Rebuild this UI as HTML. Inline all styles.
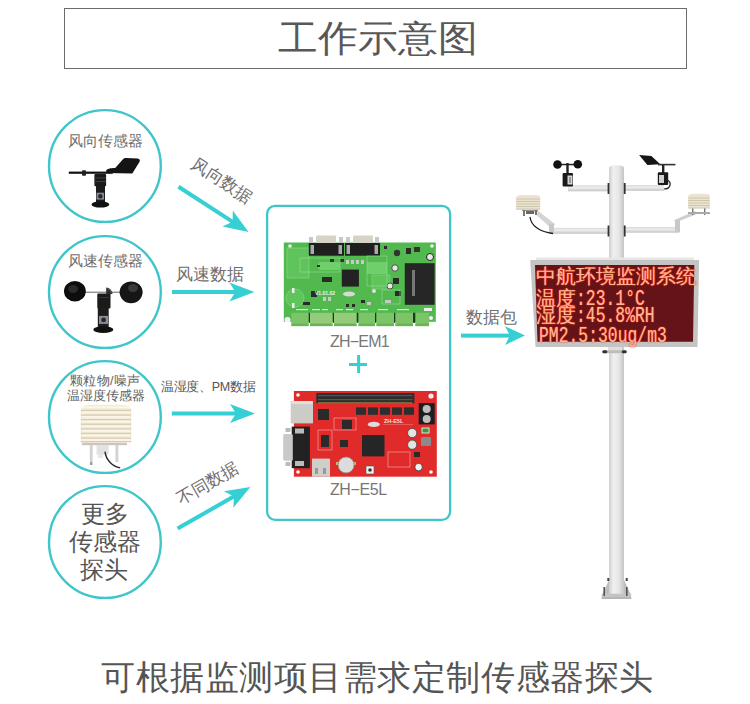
<!DOCTYPE html>
<html><head><meta charset="utf-8">
<style>
html,body{margin:0;padding:0;background:#fff;}
body{width:750px;height:704px;position:relative;overflow:hidden;font-family:"Liberation Sans",sans-serif;color:#555;}
.t{position:absolute;white-space:nowrap;line-height:1;}
svg{position:absolute;left:0;top:0;}
.led{color:#ffb896;text-shadow:0 0 1px #ff3a1a,0 0 2px #ff2010;}
.m{font-family:"Liberation Mono",monospace;font-size:22px;display:inline-block;transform:scaleX(0.745);transform-origin:0 50%;}
</style></head><body>
<div style="position:absolute;left:64px;top:8px;width:621px;height:59px;border:1px solid #6b6b6b;"></div>
<div class="t" id="title" style="left:278px;top:19px;font-size:40px;color:#585858;transform:scaleY(0.93);transform-origin:0 0;">工作示意图</div>

<svg width="750" height="704" viewBox="0 0 750 704">
  <defs>
    <g id="arr"><polygon points="0,0 -25,-9.5 -19,0 -25,9.5" fill="#36cfd3"/></g>
  </defs>
  <!-- circles -->
  <g fill="none" stroke="#3ec6cb" stroke-width="2.4">
    <circle cx="104.9" cy="166" r="55.9"/>
    <circle cx="104.9" cy="292" r="55.9"/>
    <circle cx="104.9" cy="417" r="55.9"/>
    <circle cx="104.9" cy="542" r="55.9"/>
  </g>
  <!-- container -->
  <rect x="267.1" y="205.8" width="183" height="314" rx="8" ry="8" fill="none" stroke="#40c6c9" stroke-width="2.3"/>
  <!-- arrows -->
  <g transform="translate(248.6,232.1) rotate(32.9)"><rect x="-83.5" y="-2" width="66" height="4" fill="#36cfd3"/><use href="#arr"/></g>
  <g transform="translate(254.4,292)"><rect x="-82.4" y="-2" width="65" height="4" fill="#36cfd3"/><use href="#arr"/></g>
  <g transform="translate(255,413.5)"><rect x="-83.2" y="-2" width="65" height="4" fill="#36cfd3"/><use href="#arr"/></g>
  <g transform="translate(250.4,487.1) rotate(-29.6)"><rect x="-83.7" y="-2" width="66" height="4" fill="#36cfd3"/><use href="#arr"/></g>
  <g transform="translate(525,335.6)"><rect x="-64" y="-2" width="50" height="4" fill="#36cfd3"/><polygon points="0,0 -20,-9.4 -15,0 -20,9.4" fill="#36cfd3"/></g>
  <!-- plus -->
  <rect x="349" y="363" width="18" height="3" fill="#34d0d4"/>
  <rect x="357.1" y="355" width="3" height="18" fill="#34d0d4"/>
</svg>


<svg width="750" height="704" viewBox="0 0 750 704">
  <!-- wind vane sensor -->
  <g id="vane">
    <rect x="68.8" y="171.6" width="44" height="2.2" fill="#111"/>
    <rect x="82" y="170.2" width="4" height="5.6" rx="1" fill="#222"/>
    <path d="M106.1,170.8 C107,168.8 110,168.2 115.2,168.1 L123.2,159.1 C124,158 125,158 126,158 L137.6,158.5 C139.5,158.8 140.3,160 139.7,161.4 L132.3,173.5 L106.7,173 Z" fill="#141414"/>
    <rect x="94.4" y="174" width="11.7" height="12.3" rx="1" fill="#1a1a1a"/>
    <rect x="94.4" y="177.5" width="11.7" height="0.9" fill="#444"/>
    <rect x="94.4" y="181" width="11.7" height="0.9" fill="#444"/>
    <rect x="96" y="186" width="9" height="17" fill="#1c1c1c"/>
    <rect x="96.5" y="192.7" width="7.5" height="6.9" fill="#8a8a8a"/>
    <circle cx="100.3" cy="196.2" r="2.2" fill="#1a2a40"/>
    <ellipse cx="100.4" cy="204.4" rx="8.9" ry="3.2" fill="#111"/>
  </g>
  <!-- anemometer -->
  <g id="anemo">
    <rect x="85" y="291.6" width="36" height="1.3" fill="#8a8a8a"/>
    <ellipse cx="74.9" cy="291.2" rx="10.9" ry="10.3" fill="#0d0d0d"/>
    <ellipse cx="73" cy="289" rx="5" ry="4" fill="#2a2a2a"/>
    <ellipse cx="131.1" cy="292.3" rx="11.5" ry="10.9" fill="#161616"/>
    <ellipse cx="133" cy="288" rx="5" ry="4" fill="#3a3a3a"/>
    
    <rect x="97.3" y="293.5" width="13.2" height="15" rx="1" fill="#1a1a1a"/>
    <rect x="97.8" y="308" width="10.9" height="20" fill="#1c1c1c"/>
    <path d="M106.2,294 L106.2,287.5 A6.2,6.5 0 0 1 112.4,294 Z" fill="#2e2e2e"/><path d="M107.5,288.5 A5,5 0 0 1 111.5,293" stroke="#777" stroke-width="0.8" fill="none"/>
    <rect x="97.3" y="297" width="13.2" height="0.8" fill="#3a3a3a"/>
    <rect x="99" y="315.9" width="9.2" height="8" fill="#8d8d8d"/>
    <circle cx="103.6" cy="319.9" r="2.4" fill="#1a2a40"/>
    <ellipse cx="103.3" cy="329.7" rx="10" ry="3.4" fill="#111"/>
  </g>
  <!-- shield sensor -->
  <g id="shield">
    <rect x="81.9" y="442.6" width="45" height="2.6" fill="#cdc6bc"/>
    <rect x="89.8" y="445" width="2.8" height="20" fill="#d2d2d2"/><rect x="90.2" y="462" width="2" height="3" fill="#999"/>
    <rect x="115.5" y="445" width="2.8" height="17" fill="#d2d2d2"/>
    <rect x="96.6" y="445" width="12" height="9.7" fill="#e2e2e2"/><rect x="98" y="454" width="5" height="4" fill="#e8e8e8"/>
    <path d="M105,451.6 C106,460 112,466 120.2,467.9" stroke="#2a2a2a" stroke-width="1.4" fill="none"/>
    <path d="M80.8,410 Q81,404.8 92,404.8 L120,404.8 Q131,404.8 131.2,410 L131.2,442 L80.8,442 Z" fill="#f3ecd8"/>
    <g fill="#d9ceb2">
      <rect x="80.8" y="409.8" width="50.4" height="1.3"/>
      <rect x="80.8" y="414.4" width="50.4" height="1.3"/>
      <rect x="80.8" y="419" width="50.4" height="1.3"/>
      <rect x="80.8" y="423.6" width="50.4" height="1.3"/>
      <rect x="80.8" y="428.2" width="50.4" height="1.3"/>
      <rect x="80.8" y="432.8" width="50.4" height="1.3"/>
      <rect x="80.8" y="437.4" width="50.4" height="1.3"/>
      <rect x="80.8" y="441" width="50.4" height="1.2"/>
    </g>
    <g fill="#fbf7ec">
      <rect x="82" y="406.5" width="48" height="1.5"/>
      <rect x="82" y="411.6" width="48" height="1.5"/>
      <rect x="82" y="416.2" width="48" height="1.5"/>
      <rect x="82" y="420.8" width="48" height="1.5"/>
      <rect x="82" y="425.4" width="48" height="1.5"/>
      <rect x="82" y="430" width="48" height="1.5"/>
      <rect x="82" y="434.6" width="48" height="1.5"/>
      <rect x="82" y="439.2" width="48" height="1.5"/>
    </g>
  </g>
</svg>


<svg width="750" height="704" viewBox="0 0 750 704">
  <defs>
    <linearGradient id="pg" x1="0" x2="1" y1="0" y2="0">
      <stop offset="0" stop-color="#cfcfcf"/>
      <stop offset="0.3" stop-color="#f0f0f0"/>
      <stop offset="0.65" stop-color="#e6e6e6"/>
      <stop offset="1" stop-color="#c4c4c4"/>
    </linearGradient>
    <linearGradient id="ag" x1="0" x2="0" y1="0" y2="1">
      <stop offset="0" stop-color="#d8d8d8"/>
      <stop offset="0.4" stop-color="#eeeeee"/>
      <stop offset="1" stop-color="#c4c4c4"/>
    </linearGradient>
  </defs>
  <!-- pole -->
  <path d="M609,168 Q609,165.3 616.5,165.3 Q624,165.3 624,168 L624,594 L609,594 Z" fill="url(#pg)"/>
  <!-- base plate -->
  <path d="M602.5,594 L609,580 L609,594 Z M630.5,594 L624,580 L624,594 Z" fill="#bdbdbd"/>
  <rect x="601.7" y="593.7" width="29.5" height="5" fill="#c4c4c4"/>
  <rect x="601.7" y="597.5" width="29.5" height="1.2" fill="#a8a8a8"/>
  <rect x="607.3" y="578" width="2" height="3" fill="#444"/>
  <rect x="625.7" y="578" width="2" height="3" fill="#444"/>
  <rect x="603.4" y="587" width="1.6" height="9" fill="#555"/>
  <rect x="626" y="587" width="1.6" height="9" fill="#555"/>
  <!-- upper arms -->
  <rect x="568" y="185.3" width="41" height="6" fill="url(#ag)"/>
  <rect x="624" y="185" width="40" height="5.8" fill="url(#ag)"/>
  <rect x="607.6" y="183" width="1.8" height="11" fill="#333"/>
  <rect x="623.8" y="183" width="1.8" height="11" fill="#333"/>
  <!-- lower arms -->
  <rect x="551.4" y="227.9" width="58" height="5.9" fill="url(#ag)"/>
  <rect x="624" y="227" width="55.4" height="5.7" fill="url(#ag)"/>
  <rect x="607.6" y="225.5" width="1.8" height="11" fill="#333"/>
  <rect x="623.8" y="225.5" width="1.8" height="11" fill="#333"/>
  <!-- left diagonal -->
  <polygon points="533,212 537,210 555,224 552,229" fill="#d4d4d4"/>
  <rect x="549" y="224" width="5" height="10" fill="#c8c8c8"/>
  <path d="M530,217 C531,226 540,232 553,233.5" stroke="#1c1c1c" stroke-width="1.3" fill="none"/>
  <rect x="522" y="209.5" width="16" height="1.6" fill="#999"/><rect x="523" y="210" width="2" height="6" fill="#777"/><rect x="535" y="210" width="2" height="5" fill="#777"/><rect x="526" y="211" width="8" height="3" fill="#666"/>
  <!-- right diagonal -->
  <polygon points="673.8,220.2 677,222 697,214 695,211" fill="#cfcfcf"/>
  <rect x="675" y="220" width="5" height="12" fill="#c8c8c8"/>
  <rect x="692" y="208" width="1.4" height="7" fill="#777"/>
  <rect x="704" y="208" width="1.4" height="7" fill="#777"/>
  <rect x="688" y="212" width="22" height="2" fill="#aaa"/>
  <!-- shields -->
  <g>
    <path d="M516.2,197 Q517,195 522,195 L535,195 Q540,195 540.2,197 L540.2,209.8 L516.2,209.8 Z" fill="#ebe4d0"/>
    <g stroke="#c6bca4" stroke-width="0.8">
      <line x1="516.2" y1="199" x2="540.2" y2="199"/><line x1="516.2" y1="201.5" x2="540.2" y2="201.5"/>
      <line x1="516.2" y1="204" x2="540.2" y2="204"/><line x1="516.2" y1="206.5" x2="540.2" y2="206.5"/>
      <line x1="516.2" y1="209" x2="540.2" y2="209"/>
    </g>
    <path d="M688.2,196 Q689,193.8 694,193.8 L705,193.8 Q709.8,193.8 709.8,196 L709.8,208.2 L688.2,208.2 Z" fill="#ebe4d0"/>
    <g stroke="#c6bca4" stroke-width="0.8">
      <line x1="688.2" y1="198" x2="709.8" y2="198"/><line x1="688.2" y1="200.5" x2="709.8" y2="200.5"/>
      <line x1="688.2" y1="203" x2="709.8" y2="203"/><line x1="688.2" y1="205.5" x2="709.8" y2="205.5"/>
      <line x1="688.2" y1="208" x2="709.8" y2="208"/>
    </g>
  </g>
  <!-- small anemometer -->
  <rect x="558" y="163.8" width="20" height="1.5" fill="#222"/>
  <circle cx="557.5" cy="164.5" r="4.3" fill="#111"/>
  <circle cx="577.8" cy="164.2" r="4.3" fill="#111"/>
  <rect x="566.3" y="163" width="2.4" height="10" fill="#222"/>
  <rect x="562.6" y="173" width="10.4" height="13.6" rx="1" fill="#1a1a1a"/>
  <rect x="567.5" y="175.5" width="5" height="9" fill="#d6d6d6"/><rect x="569" y="177" width="2" height="6" fill="#999"/>
  <!-- small wind vane -->
  <polygon points="639.1,154.9 651.4,155.9 660.2,164.2 647.4,165" fill="#151515"/>
  <rect x="658" y="163.8" width="17.4" height="1.6" fill="#333"/>
  <rect x="662" y="165" width="2.4" height="8" fill="#222"/>
  <rect x="657.8" y="172.2" width="10.4" height="12.8" rx="1" fill="#1a1a1a"/>
  <rect x="659" y="175" width="5" height="8" fill="#cfcfcf"/>
  <path d="M667,180 C672,182 671,189 664,189" stroke="#222" stroke-width="1.2" fill="none"/>
  <!-- LED board -->
  <rect x="536" y="257.5" width="158" height="2.6" fill="#e6e6e6"/>
  <path d="M530.2,260.1 L699.1,260.1 L697.5,347 L535.5,347 Z" fill="#c4c4c4"/>
  <path d="M535,264.9 L694.3,264.9 L693,341.7 L537.5,341.7 Z" fill="#641418"/>
  <rect x="608" y="347" width="14" height="4" fill="#dedede"/><rect x="602.3" y="350.3" width="24.4" height="3" rx="1.5" fill="#bdbdbd"/><rect x="602.3" y="350.3" width="5" height="3" rx="1.5" fill="#333"/><rect x="621.7" y="350.3" width="5" height="3" rx="1.5" fill="#333"/>
</svg>
<div class="t led" id="led1" style="left:536px;top:266.5px;font-size:19.5px;">中航环境监测系统</div>
<div class="t led" id="led2" style="left:536px;top:289px;font-size:19.5px;">温度<span class="m">:23.1°C</span></div>
<div class="t led" id="led3" style="left:536px;top:305.5px;font-size:19.5px;">湿度<span class="m">:45.8%RH</span></div>
<div class="t led" id="led4" style="left:539px;top:326px;"><span class="m">PM2.5:30ug/m3</span></div>


<svg width="750" height="704" viewBox="0 0 750 704">
  <!-- GREEN BOARD ZH-EM1 -->
  <rect x="283.8" y="242.5" width="152" height="79.3" fill="#52b94f"/>
  <!-- left relay area -->
  <rect x="287" y="248" width="22" height="30" fill="#5fc45c" stroke="#8fd98a" stroke-width="0.6"/>
  <circle cx="290" cy="246" r="1.8" fill="#f4f4f4"/>
  <circle cx="432" cy="246" r="1.8" fill="#f4f4f4"/>
  <circle cx="431" cy="318" r="2" fill="#f4f4f4"/>
  <circle cx="287.5" cy="320" r="3" fill="#f4f4f4"/>
  <circle cx="295" cy="298" r="9" fill="#5ec55b" stroke="#8fd98a" stroke-width="0.6"/>
  <rect x="292" y="288" width="2.5" height="5" fill="#eee"/>
  <rect x="292" y="303" width="2.5" height="5" fill="#eee"/>
  <!-- DB9 connectors -->
  <g>
    <rect x="316" y="235.5" width="20" height="7.5" rx="1" fill="#d6d2c6"/>
    <rect x="309" y="237" width="4" height="6" fill="#c8c8c8"/>
    <rect x="339" y="237" width="4" height="6" fill="#c8c8c8"/>
    <rect x="308.8" y="243" width="35.2" height="12.7" fill="#1f1f1f"/>
    <rect x="310.5" y="245" width="3.5" height="9" fill="#aaa"/>
    <rect x="338.5" y="245" width="3.5" height="9" fill="#aaa"/>
    <rect x="353" y="235.5" width="20" height="7.5" rx="1" fill="#d6d2c6"/>
    <rect x="346" y="237" width="4" height="6" fill="#c8c8c8"/>
    <rect x="375" y="237" width="4" height="6" fill="#c8c8c8"/>
    <rect x="345" y="243" width="35" height="12.7" fill="#1f1f1f"/>
    <rect x="346.5" y="245" width="3.5" height="9" fill="#aaa"/>
    <rect x="374.5" y="245" width="3.5" height="9" fill="#aaa"/>
  </g>
  <!-- light traces/regions -->
  <rect x="318" y="262" width="22" height="8" rx="3" fill="#6fcf6b"/>
  <rect x="367" y="262" width="20" height="12" fill="#6fcf6b"/>
  <rect x="372" y="275" width="18" height="14" fill="#5fc45c" stroke="#8fd98a" stroke-width="0.5"/>
  <!-- chips -->
  <rect x="341.8" y="269.6" width="17.1" height="17" fill="#222"/>
  <rect x="322" y="277" width="10" height="5" fill="#2a2a2a"/>
  <rect x="311" y="291" width="6" height="6" fill="#2a2a2a"/>
  <rect x="317" y="265" width="3" height="2" fill="#333"/>
  <rect x="330" y="259" width="4" height="3" fill="#333"/>
  <rect x="340" y="259" width="4" height="3" fill="#333"/>
  <ellipse cx="349" cy="294" rx="6" ry="2.5" fill="#d8d8d8"/>
  <rect x="393" y="278" width="6" height="6" fill="#2a2a2a"/>
  <rect x="395" y="291" width="6" height="5" fill="#2a2a2a"/>
  <rect x="406" y="248" width="5" height="6" fill="#2a2a2a"/>
  <rect x="414" y="247" width="6" height="5" fill="#333"/>
  <circle cx="397" cy="253" r="3.2" fill="#333"/>
  <circle cx="430" cy="257" r="3.5" fill="#e8e8e8" stroke="#222" stroke-width="1"/>
  <circle cx="395" cy="268" r="3.2" fill="#e8e8e8" stroke="#333" stroke-width="0.8"/>
  <circle cx="390" cy="286" r="3" fill="#e8e8e8" stroke="#333" stroke-width="0.8"/>
  <circle cx="374" cy="291" r="2" fill="#e0e0e0"/>
  <!-- silkscreen/texture -->
  <g fill="#d8f0d0">
    <rect x="296" y="309" width="12" height="1.2"/><rect x="312" y="309" width="8" height="1.2"/>
    <rect x="322" y="309" width="6" height="1.2"/><rect x="336" y="309" width="7" height="1.2"/>
    <rect x="346" y="309" width="7" height="1.2"/><rect x="360" y="309" width="8" height="1.2"/>
    <rect x="378" y="309" width="10" height="1.2"/><rect x="397" y="309" width="12" height="1.2"/>
  </g>
  <text x="315" y="294.5" font-family="Liberation Sans" font-size="5" font-weight="bold" fill="#f0f0f0">V1.01.02</text>
  <g fill="#c9c9c9">
    <rect x="346" y="260" width="3" height="4"/><rect x="351" y="260" width="3" height="4"/><rect x="356" y="260" width="3" height="4"/><rect x="361" y="260" width="3" height="4"/>
    <rect x="323" y="297" width="3" height="4"/><rect x="328" y="297" width="3" height="4"/>
    <rect x="385" y="300" width="6" height="3"/><rect x="367" y="302" width="4" height="3"/>
  </g>
  <g fill="#2a2a2a">
    <rect x="303" y="302" width="4" height="3"/><rect x="307" y="302" width="3" height="3"/>
    <rect x="384" y="246" width="3" height="3"/><rect x="361" y="300" width="4" height="3"/>
    <rect x="346" y="304" width="3" height="3"/><rect x="352" y="304" width="3" height="3"/>
  </g>
  <g fill="none" stroke="#a8e0a0" stroke-width="0.5">
    <rect x="300" y="258" width="40" height="14"/>
    <rect x="367" y="256" width="20" height="30"/>
    <rect x="382" y="290" width="18" height="14"/>
  </g>
  <!-- transformer -->
  <rect x="404.8" y="263.2" width="29.8" height="41.6" fill="#262626"/>
  <rect x="412" y="270" width="3" height="26" fill="#777"/>
  <!-- terminal blocks -->
  <rect x="284" y="322" width="152" height="5" fill="#ffffff"/>
  <g fill="#1f3a1f">
    <rect x="308.5" y="312.8" width="1.5" height="10"/>
    <rect x="332.5" y="312.8" width="1.5" height="10"/>
    <rect x="356.5" y="312.8" width="2" height="10"/>
    <rect x="375" y="312.8" width="1.5" height="10"/>
    <rect x="394" y="312.8" width="1.5" height="10"/>
    <rect x="413" y="312.8" width="2.5" height="10"/>
  </g>
  <g fill="#7cc468">
    <rect x="291.4" y="312.8" width="17.1" height="13.3"/>
    <rect x="310" y="312.8" width="22.5" height="13.3" fill="#95cc7c"/>
    <rect x="334" y="312.8" width="22.5" height="13.3" fill="#95cc7c"/>
    <rect x="358.6" y="312.8" width="16.4" height="13.3"/>
    <rect x="376.5" y="312.8" width="17.5" height="13.3"/>
    <rect x="395.5" y="312.8" width="17.5" height="13.3"/>
    <rect x="415.5" y="312.8" width="13.5" height="13.3"/>
  </g>
  <g fill="#6ab356">
    <rect x="291.4" y="323.5" width="17.1" height="2.6"/><rect x="310" y="323.5" width="22.5" height="2.6"/>
    <rect x="334" y="323.5" width="22.5" height="2.6"/><rect x="358.6" y="323.5" width="16.4" height="2.6"/>
    <rect x="376.5" y="323.5" width="17.5" height="2.6"/><rect x="395.5" y="323.5" width="17.5" height="2.6"/>
    <rect x="415.5" y="323.5" width="13.5" height="2.6"/>
  </g>
  <rect x="424" y="308" width="8" height="3" fill="#eee"/>

  <!-- RED BOARD ZH-E5L -->
  <rect x="293.9" y="391" width="142.9" height="85.7" fill="#e12a2a"/>
  <circle cx="298" cy="395" r="1.8" fill="#fff"/>
  <circle cx="431" cy="396" r="2.6" fill="#eee"/>
  <circle cx="298" cy="472" r="1.8" fill="#fff"/>
  <circle cx="431" cy="472" r="1.8" fill="#fff"/>
  <rect x="316.3" y="393.1" width="98.1" height="10" fill="#2e2e2e"/>
  <rect x="318" y="395" width="94.5" height="1.2" fill="#555"/>
  <rect x="318" y="399" width="94.5" height="1.2" fill="#555"/>
  <!-- RJ45 -->
  <rect x="290.7" y="401" width="22.3" height="22.4" fill="#cdcbc6"/>
  <rect x="291.5" y="401" width="21" height="3" fill="#e2e0dc"/>
  <!-- DB9 -->
  <rect x="291.7" y="426.6" width="18.2" height="41.6" fill="#222"/>
  <rect x="283.2" y="434" width="9.6" height="26.7" rx="1.5" fill="#c9c9c9"/>
  <rect x="285.5" y="428" width="5" height="4" fill="#bbb"/>
  <rect x="285.5" y="462" width="5" height="4" fill="#bbb"/>
  <rect x="295" y="428.5" width="9" height="5" fill="#bbb"/>
  <rect x="295" y="461" width="9" height="5" fill="#bbb"/>
  <!-- USB -->
  <rect x="312" y="458.6" width="18" height="18.1" fill="#d0cec8"/>
  <rect x="315" y="468" width="3" height="6" fill="#999"/>
  <rect x="323" y="468" width="3" height="6" fill="#999"/>
  <!-- chips -->
  <rect x="318" y="409" width="11" height="11" fill="#2a2a2a"/>
  <g fill="#2e2e2e">
    <rect x="356" y="407.4" width="10" height="7.4"/>
    <rect x="368" y="407.4" width="10" height="7.4"/>
    <rect x="380" y="407.4" width="10" height="7.4"/>
    <rect x="392" y="407.4" width="10" height="7.4"/>
    <rect x="404" y="407.4" width="10" height="7.4"/>
  </g>
  <rect x="342" y="420" width="10" height="9" fill="#2a2a2a"/>
  <rect x="321" y="435" width="8" height="12" fill="#2a2a2a"/>
  <rect x="340" y="440" width="8" height="7" fill="#2a2a2a"/>
  <rect x="362" y="435.1" width="22.5" height="21.3" fill="#262626"/>
  <ellipse cx="373.8" cy="424.4" rx="6" ry="2.6" fill="#e0dada"/>
  <!-- coin battery -->
  <rect x="336" y="462" width="20" height="3" fill="#d4b060"/>
  <circle cx="346.1" cy="465" r="8" fill="#dcdcdc" stroke="#888" stroke-width="0.8"/>
  <!-- right terminal -->
  <rect x="418.7" y="403.1" width="16" height="21.3" fill="#1e1e1e"/>
  <circle cx="426.7" cy="409" r="4" fill="#bdbdbd"/>
  <circle cx="426.7" cy="419" r="4" fill="#bdbdbd"/>
  <circle cx="412.2" cy="433" r="4.6" fill="#e4e4e4" stroke="#444" stroke-width="0.8"/>
  <circle cx="412.2" cy="444.7" r="4.6" fill="#e4e4e4" stroke="#444" stroke-width="0.8"/>
  <rect x="421" y="437" width="10" height="9" rx="1" fill="#8a8a8a"/>
  <rect x="422" y="428" width="7" height="5" fill="#3a9a3a" stroke="#fff" stroke-width="0.8"/>
  <rect x="414" y="452" width="6" height="5" fill="#2a2a2a"/>
  <circle cx="418.6" cy="467.1" r="3.8" fill="#f0f0f0" stroke="#333" stroke-width="0.8"/>
  <rect x="366" y="466" width="8" height="8" fill="#eee" stroke="#555" stroke-width="0.6"/>
  <circle cx="370" cy="470" r="1.8" fill="#333"/>
  <rect x="383" y="424" width="30" height="0.8" fill="#f06060"/>
  <text x="384" y="423" font-family="Liberation Sans" font-size="5.5" font-weight="bold" fill="#f8e0e0">ZH-E5L</text>
  <g fill="none" stroke="#f4b0b0" stroke-width="0.6">
    <rect x="334" y="418" width="22" height="12"/>
    <rect x="388" y="452" width="22" height="15"/>
    <rect x="318" y="430" width="14" height="20"/>
  </g>
  <g fill="#c8a040">
    <rect x="318" y="402.5" width="94" height="0.7"/>
  </g>
</svg>

<div class="t" style="left:68px;top:134px;font-size:14.6px;color:#6e6e6e;">风向传感器</div>
<div class="t" style="left:68px;top:254px;font-size:14.6px;color:#6e6e6e;">风速传感器</div>
<div class="t" style="left:70px;top:375px;font-size:12.6px;color:#5e5e5e;letter-spacing:0.3px;">颗粒物/噪声</div>
<div class="t" style="left:67px;top:390px;font-size:12.6px;color:#5e5e5e;">温湿度传感器</div>
<div class="t" style="left:80px;top:500px;font-size:23.5px;line-height:28.5px;color:#555;text-align:center;width:50px;white-space:normal">更多</div>
<div class="t" style="left:69px;top:530.5px;font-size:23.5px;color:#555;">传感器</div>
<div class="t" style="left:80px;top:559px;font-size:23.5px;color:#555;">探头</div>

<div class="t" style="left:175.5px;top:265.5px;font-size:16.5px;color:#6e6e6e;">风速数据</div>
<div class="t" style="left:161px;top:380.5px;font-size:12.5px;color:#555;letter-spacing:-0.3px;">温湿度、PM数据</div>
<div class="t" style="left:466px;top:308.5px;font-size:17px;color:#6e6e6e;">数据包</div>
<div class="t" id="rot1" style="left:198px;top:154.5px;font-size:17px;color:#6e6e6e;transform-origin:0 0;transform:rotate(33deg);">风向数据</div>
<div class="t" id="rot2" style="left:174px;top:493px;font-size:17px;color:#6e6e6e;transform-origin:0 0;transform:rotate(-30deg);">不同数据</div>

<div class="t" style="left:330px;top:334px;font-size:16px;color:#777;letter-spacing:-0.8px;">ZH−EM1</div>
<div class="t" style="left:330px;top:482px;font-size:16px;color:#777;letter-spacing:-0.4px;">ZH−E5L</div>

<div class="t" id="bottom" style="left:101px;top:659.5px;font-size:34px;letter-spacing:0.55px;color:#555;">可根据监测项目需求定制传感器探头</div>
</body></html>
